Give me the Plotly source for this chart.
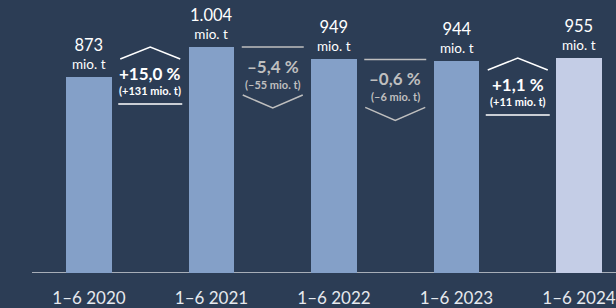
import plotly.graph_objects as go

categories = ["1–6 2020", "1–6 2021", "1–6 2022", "1–6 2023", "1–6 2024"]
values = [873, 1004, 949, 944, 955]
value_labels = ["873", "1.004", "949", "944", "955"]
change_pct = ["+15,0 %", "–5,4 %", "–0,6 %", "+1,1 %"]
change_abs = ["(+131 mio. t)", "(–55 mio. t)", "(–6 mio. t)", "(+11 mio. t)"]
change_up = [True, False, False, True]

BG = "#2c3d55"
BAR = "#84a0c8"
BAR_LAST = "#c4cde6"
GREY = "#bfbfbf"
FONT = "Lato"

x = list(range(len(categories)))
colors = [BAR] * (len(values) - 1) + [BAR_LAST]

fig = go.Figure()
fig.add_trace(go.Bar(x=x, y=values, width=0.375, marker=dict(color=colors, line=dict(width=0)),
                     hoverinfo="skip"))

ann = []
shapes = []
for i, (v, lab) in enumerate(zip(values, value_labels)):
    ann.append(dict(x=i, y=v, xref="x", yref="y",
                    text="<span style='font-size:16.5px'>" + lab + "</span><br>mio. t",
                    showarrow=False, yanchor="bottom", yshift=3,
                    font=dict(family=FONT, size=13.5, color="white")))

for i, (p, a, up) in enumerate(zip(change_pct, change_abs, change_up)):
    top = max(values[i], values[i + 1])
    xc = i + 0.5
    col = "white" if up else GREY
    if up:
        shapes.append(dict(type="path", xref="x", yref="y", xsizemode="pixel", ysizemode="pixel",
                           xanchor=xc, yanchor=top, path="M -30,-12 L 0,0 L 30,-12",
                           line=dict(color=col, width=1.5)))
        shapes.append(dict(type="path", xref="x", yref="y", xsizemode="pixel", ysizemode="pixel",
                           xanchor=xc, yanchor=top, path="M -32,-57 L 32,-57",
                           line=dict(color=col, width=1.5)))
        dy1, dy2 = -26, -43
    else:
        shapes.append(dict(type="path", xref="x", yref="y", xsizemode="pixel", ysizemode="pixel",
                           xanchor=xc, yanchor=top, path="M -31,0 L 31,0",
                           line=dict(color=col, width=1.5)))
        shapes.append(dict(type="path", xref="x", yref="y", xsizemode="pixel", ysizemode="pixel",
                           xanchor=xc, yanchor=top, path="M -30,-48 L 0,-61 L 30,-48",
                           line=dict(color=col, width=1.5)))
        dy1, dy2 = -19, -37
    ann.append(dict(x=xc, y=top, xref="x", yref="y", text="<b>" + p + "</b>", showarrow=False,
                    yanchor="middle", yshift=dy1, font=dict(family=FONT, size=17, color=col)))
    ann.append(dict(x=xc, y=top, xref="x", yref="y", text="<b>" + a + "</b>", showarrow=False,
                    yanchor="middle", yshift=dy2, font=dict(family=FONT, size=11, color=col)))

# baseline
shapes.append(dict(type="line", xref="paper", yref="y", x0=32 / 616, x1=1, y0=0, y1=0,
                   line=dict(color="#d0d4da", width=1.5), layer="below"))

fig.update_layout(
    width=616, height=308,
    margin=dict(l=0, r=0, t=0, b=25),
    paper_bgcolor=BG, plot_bgcolor=BG,
    showlegend=False,
    bargap=0,
    annotations=ann,
    shapes=shapes,
    xaxis=dict(range=[-0.7265, 4.302], tickvals=x, ticktext=categories, showgrid=False,
               zeroline=False, showline=False, ticks="", fixedrange=True, ticklabelstandoff=13,
               tickfont=dict(family=FONT, size=17, color="#e6e9ee")),
    yaxis=dict(range=[0, 1213], visible=False, fixedrange=True),
)

fig.write_html("out.html", config={"displayModeBar": False},
               post_script="document.body.style.margin='0';document.body.style.overflow='hidden';")
